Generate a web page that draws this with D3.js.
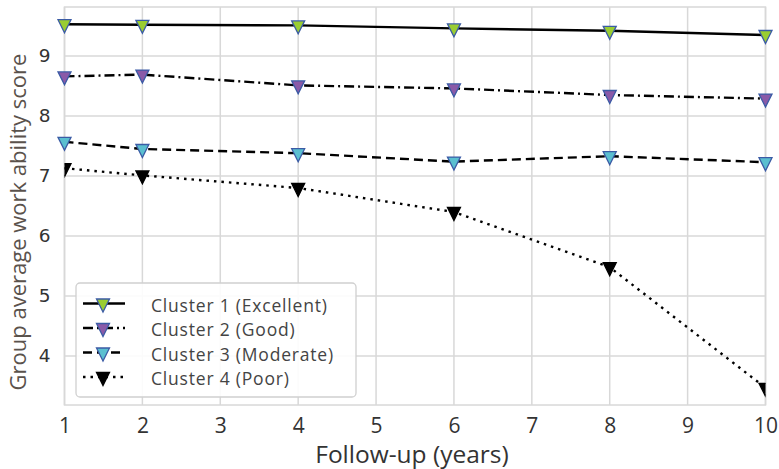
<!DOCTYPE html>
<html>
<head>
<meta charset="utf-8">
<script src="https://cdn.jsdelivr.net/npm/d3@7"></script>
<style>
  html, body { margin: 0; padding: 0; background: #ffffff; }
  svg { display: block; }
</style>
</head>
<body>
<svg id="chart" width="779" height="469"></svg>
<script>
const years = [1, 2, 4, 6, 8, 10];
const cluster1 = [9.53, 9.52, 9.51, 9.46, 9.42, 9.35];
const cluster2 = [8.66, 8.69, 8.51, 8.46, 8.35, 8.29];
const cluster3 = [7.57, 7.45, 7.38, 7.24, 7.33, 7.23];
const cluster4 = [7.13, 7.01, 6.80, 6.40, 5.48, 3.47];
const seriesNames = ["Cluster 1 (Excellent)", "Cluster 2 (Good)", "Cluster 3 (Moderate)", "Cluster 4 (Poor)"];
const xTicks = [1, 2, 3, 4, 5, 6, 7, 8, 9, 10];
const yTicks = [4, 5, 6, 7, 8, 9];

const styles = [
  { fill: "#9acd32", stroke: "#3b5ba5", dash: null, clip: false },
  { fill: "#8a5aa8", stroke: "#3b5ba5", dash: "10,4,2,4", clip: false },
  { fill: "#5bbfd0", stroke: "#3b5ba5", dash: "9,5", clip: false },
  { fill: "#000000", stroke: "#000000", dash: "2.5,5", clip: true }
];
const allSeries = [cluster1, cluster2, cluster3, cluster4];

(function () {
const svg = d3.select("#chart");
const pLeft = 64.5, pRight = 765.5, pTop = 7, pBottom = 405;
const x = d3.scaleLinear().domain([1, 10]).range([pLeft, pRight]);
const y = d3.scaleLinear().domain([4, 9]).range([356, 56]);

svg.append("defs").append("clipPath").attr("id", "plotclip")
  .append("rect").attr("x", pLeft).attr("y", pTop).attr("width", pRight - pLeft).attr("height", pBottom - pTop);

const grid = svg.append("g");
grid.selectAll(".vg").data(xTicks).enter().append("line")
  .attr("x1", d => x(d)).attr("x2", d => x(d)).attr("y1", pTop).attr("y2", pBottom)
  .attr("stroke", "#d8d8d8").attr("stroke-width", 1.5);
grid.selectAll(".hg").data(yTicks).enter().append("line")
  .attr("x1", pLeft).attr("x2", pRight).attr("y1", d => y(d)).attr("y2", d => y(d))
  .attr("stroke", "#d8d8d8").attr("stroke-width", 1.5);
grid.append("rect").attr("x", pLeft).attr("y", pTop).attr("width", pRight - pLeft).attr("height", pBottom - pTop)
  .attr("fill", "none").attr("stroke", "#d8d8d8").attr("stroke-width", 1.5);

const xAxis = d3.axisBottom(x).tickValues(xTicks).tickSize(0).tickPadding(13).tickFormat(d3.format("d"));
const gx = svg.append("g").attr("transform", `translate(0,${pBottom})`).call(xAxis);
gx.select(".domain").remove();
gx.selectAll("text").attr("font-family", "'Open Sans', sans-serif").attr("font-size", 21).attr("fill", "#333");

const yAxis = d3.axisLeft(y).tickValues(yTicks).tickSize(0).tickPadding(14).tickFormat(d3.format("d"));
const gy = svg.append("g").attr("transform", `translate(${pLeft},0)`).call(yAxis);
gy.select(".domain").remove();
gy.selectAll("text").attr("font-family", "'DejaVu Sans', sans-serif").attr("font-size", 18.5).attr("fill", "#333");

svg.append("text").attr("x", 412).attr("y", 463).attr("text-anchor", "middle")
  .attr("font-family", "'Open Sans', sans-serif").attr("font-size", 24.5).attr("fill", "#333")
  .text("Follow-up (years)");
svg.append("text").attr("transform", "translate(26,222) rotate(-90)").attr("text-anchor", "middle")
  .attr("font-family", "'Open Sans', sans-serif").attr("font-size", 22).attr("fill", "#5a524c")
  .text("Group average work ability score");

const tri = "M-6.5,-4.5L6.5,-4.5L0,8.5Z";

const line = d3.line().x((d, i) => x(years[i])).y(d => y(d));
allSeries.forEach((vals, si) => {
  const st = styles[si];
  svg.append("path").datum(vals).attr("d", line)
    .attr("fill", "none").attr("stroke", "#000").attr("stroke-width", 2.4)
    .attr("stroke-dasharray", st.dash);
  const g = svg.append("g");
  if (st.clip) g.attr("clip-path", "url(#plotclip)");
  g.selectAll("path").data(vals).enter().append("path")
    .attr("d", tri)
    .attr("transform", (d, i) => `translate(${x(years[i])},${y(d)})`)
    .attr("fill", st.fill).attr("stroke", st.stroke).attr("stroke-width", 1.3)
    .attr("stroke-linejoin", "miter");
});

const lg = svg.append("g");
lg.append("rect").attr("x", 76).attr("y", 283).attr("width", 280).attr("height", 114).attr("rx", 4)
  .attr("fill", "#fff").attr("fill-opacity", 0.9).attr("stroke", "#d0d0d0").attr("stroke-width", 1.3);
seriesNames.forEach((name, i) => {
  const st = styles[i];
  const yy = 303.5 + i * 24.5;
  lg.append("line").attr("x1", 83).attr("x2", 125).attr("y1", yy).attr("y2", yy)
    .attr("stroke", "#000").attr("stroke-width", 2.4).attr("stroke-dasharray", st.dash);
  lg.append("path").attr("d", tri).attr("transform", `translate(103,${yy})`)
    .attr("fill", st.fill).attr("stroke", st.stroke).attr("stroke-width", 1.3);
  lg.append("text").attr("x", 151).attr("y", yy + 8)
    .attr("font-family", "'Open Sans', sans-serif").attr("font-size", 17.5)
    .attr("letter-spacing", 0.8).attr("fill", "#444")
    .text(name);
});
})();
</script>
</body>
</html>
